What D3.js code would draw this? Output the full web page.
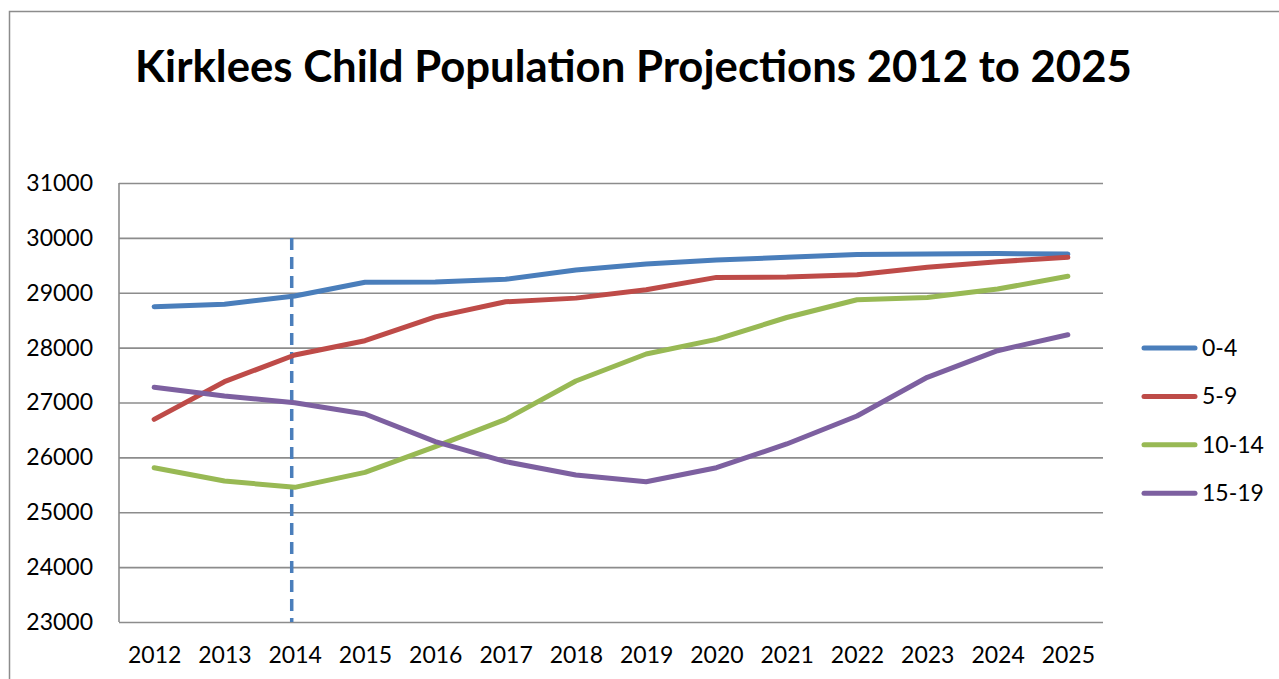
<!DOCTYPE html>
<html>
<head>
<meta charset="utf-8">
<script src="https://cdn.jsdelivr.net/npm/d3@7"></script>
<style>
  body { margin: 0; background: #fff; }
  svg { display: block; font-family: Lato, "Open Sans", sans-serif; }
</style>
</head>
<body>
<div id="chart"></div>
<script>
const years = ["2012", "2013", "2014", "2015", "2016", "2017", "2018", "2019", "2020", "2021", "2022", "2023", "2024", "2025"];
const age0to4 = [28746, 28789, 28941, 29190, 29195, 29245, 29415, 29524, 29598, 29646, 29695, 29707, 29713, 29707];
const age5to9 = [26693, 27379, 27866, 28126, 28560, 28835, 28902, 29055, 29280, 29285, 29329, 29463, 29567, 29646];
const age10to14 = [25812, 25569, 25454, 25727, 26195, 26693, 27392, 27884, 28150, 28549, 28872, 28915, 29067, 29300];
const age15to19 = [27277, 27118, 26997, 26790, 26286, 25922, 25679, 25557, 25812, 26244, 26754, 27459, 27944, 28235];
const seriesNames = ["0-4", "5-9", "10-14", "15-19"];
const yTicks = [23000, 24000, 25000, 26000, 27000, 28000, 29000, 30000, 31000];
const markerYear = "2014";

const colors = ["#4a7ebb", "#be4b48", "#98b954", "#7d60a0"];
const series = [age0to4, age5to9, age10to14, age15to19].map((v, i) => ({name: seriesNames[i], values: v, color: colors[i]}));

const SIZE = {width: 1279, height: 679};
const MARGIN = {left: 119, right: 176, top: 183, bottom: 57};

const svg = d3.select("#chart").append("svg")
    .attr("width", SIZE.width)
    .attr("height", SIZE.height);

// outer chart border (runs off the right and bottom of the picture)
svg.append("rect")
    .attr("x", 9.5).attr("y", 11.5)
    .attr("width", 1400).attr("height", 800)
    .attr("fill", "none").attr("stroke", "#8c8c8c").attr("stroke-width", 1.5);

const x = d3.scalePoint().domain(years).range([MARGIN.left, SIZE.width - MARGIN.right]).padding(0.5);
const y = d3.scaleLinear().domain([23000, 31000]).range([SIZE.height - MARGIN.bottom, MARGIN.top]);

// gridlines + y labels
const yAxis = svg.append("g")
    .attr("transform", `translate(${MARGIN.left},0)`)
    .call(d3.axisLeft(y).tickValues(yTicks).tickFormat(d3.format("d"))
      .tickSize(-(SIZE.width - MARGIN.right - MARGIN.left)).tickPadding(26));
yAxis.select(".domain").remove();
yAxis.selectAll(".tick line").attr("stroke", "#8c8c8c").attr("stroke-width", 1.6);
yAxis.selectAll(".tick text").attr("font-size", 23).attr("fill", "#000").attr("font-family", "Lato, sans-serif");

// left axis line
svg.append("line")
    .attr("x1", MARGIN.left).attr("x2", MARGIN.left)
    .attr("y1", y(31000)).attr("y2", y(23000))
    .attr("stroke", "#8c8c8c").attr("stroke-width", 1.6);

// x labels
const xAxis = svg.append("g")
    .attr("transform", `translate(0,${SIZE.height - MARGIN.bottom})`)
    .call(d3.axisBottom(x).tickSize(0).tickPadding(25));
xAxis.select(".domain").remove();
xAxis.selectAll(".tick text").attr("font-size", 23).attr("fill", "#000").attr("font-family", "Lato, sans-serif");

// dashed marker at 2014
svg.append("line")
    .attr("x1", x(markerYear) - 3).attr("x2", x(markerYear) - 3)
    .attr("y1", y(30000)).attr("y2", y(23000))
    .attr("stroke", colors[0]).attr("stroke-width", 3.5)
    .attr("stroke-dasharray", "12,7");

const line = d3.line().x((d, i) => x(years[i])).y(d => y(d));
svg.append("g").selectAll("path")
    .data(series)
    .join("path")
    .attr("d", d => line(d.values))
    .attr("fill", "none")
    .attr("stroke", d => d.color)
    .attr("stroke-width", 5)
    .attr("stroke-linejoin", "round")
    .attr("stroke-linecap", "round");

// legend
const legend = svg.append("g").selectAll("g")
    .data(series)
    .join("g")
    .attr("transform", (d, i) => `translate(1144,${348 + i * 48.4})`);
legend.append("line")
    .attr("x1", 0).attr("x2", 51)
    .attr("stroke", d => d.color).attr("stroke-width", 5).attr("stroke-linecap", "round");
legend.append("text")
    .attr("x", 58).attr("dy", "0.35em")
    .attr("font-size", 23)
    .text(d => d.name);

// title, fitted to the reference width
const title = svg.append("text")
    .attr("x", 633.5).attr("y", 82)
    .attr("text-anchor", "middle")
    .attr("font-weight", "bold")
    .attr("font-size", 40)
    .text("Kirklees Child Population Projections 2012 to 2025");
const w = title.node().getComputedTextLength();
title.attr("font-size", 40 * 997 / w);
</script>
</body>
</html>
